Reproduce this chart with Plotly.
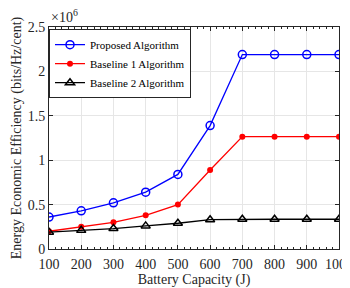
import plotly.graph_objects as go

capacity = [100, 200, 300, 400, 500, 600, 700, 800, 900, 1000]
proposed = [0.36, 0.43, 0.52, 0.64, 0.84, 1.39, 2.19, 2.19, 2.19, 2.19]
baseline1 = [0.20, 0.25, 0.30, 0.38, 0.50, 0.89, 1.265, 1.265, 1.265, 1.265]
baseline2 = [0.19, 0.21, 0.23, 0.26, 0.29, 0.33, 0.335, 0.335, 0.335, 0.335]
x_ticks = [100, 200, 300, 400, 500, 600, 700, 800, 900, 1000]
y_ticks = [0, 0.5, 1, 1.5, 2, 2.5]
y_labels = ["0", "0.5", "1", "1.5", "2", "2.5"]

font = "Liberation Serif"

fig = go.Figure()
fig.add_trace(go.Scatter(x=capacity, y=proposed, mode="lines+markers",
                         name="Proposed Algorithm",
                         line=dict(color="#0000ff", width=1.3),
                         marker=dict(symbol="circle-open", size=8, color="#0000ff", line=dict(width=1.5))))
fig.add_trace(go.Scatter(x=capacity, y=baseline1, mode="lines+markers",
                         name="Baseline 1 Algorithm",
                         line=dict(color="#ff0000", width=1.3),
                         marker=dict(symbol="circle", size=6, color="#ff0000")))
fig.add_trace(go.Scatter(x=capacity, y=baseline2, mode="lines+markers",
                         name="Baseline 2 Algorithm",
                         line=dict(color="#000000", width=1.3),
                         marker=dict(symbol="triangle-up-open", size=8, color="#000000", line=dict(width=1.5))))

# the page body adds an 8px margin, so the figure is 8px smaller and margins shifted
fig.update_layout(
    width=342, height=280,
    margin=dict(l=41, r=11, t=19, b=39),
    paper_bgcolor="white", plot_bgcolor="white",
    font=dict(family=font, size=14, color="#262626"),
    showlegend=True,
    legend=dict(x=0.0, y=0.99, xanchor="left", yanchor="top",
                bgcolor="white", bordercolor="#262626", borderwidth=1,
                font=dict(family=font, size=11, color="#000000"),
                tracegroupgap=0, itemwidth=30),
    xaxis=dict(range=[100, 1000], tickvals=x_ticks, ticktext=[str(v) for v in x_ticks],
               automargin=False,
               showgrid=True, gridcolor="#e6e6e6", gridwidth=1,
               showline=True, linecolor="#262626", linewidth=1, mirror="allticks",
               ticks="inside", ticklen=4, tickcolor="#262626",
               minor=dict(dtick=20, ticks="inside", ticklen=2, tickcolor="#262626", showgrid=False),
               zeroline=False, ticklabeloverflow="allow", ticklabelstandoff=2,
               title=dict(text="Battery Capacity (J)", standoff=0, font=dict(family=font, size=14)),
               tickfont=dict(family=font, size=14)),
    yaxis=dict(range=[0, 2.5], tickvals=y_ticks, ticktext=y_labels,
               automargin=False,
               showgrid=True, gridcolor="#e6e6e6", gridwidth=1,
               showline=True, linecolor="#262626", linewidth=1, mirror="allticks",
               ticks="inside", ticklen=4, tickcolor="#262626",
               zeroline=False,
               title=dict(text="Energy Economic Efficiency (bits/Hz/cent)", standoff=2, font=dict(family=font, size=14)),
               tickfont=dict(family=font, size=14)),
    annotations=[dict(text="×10<sup>6</sup>", xref="paper", yref="paper", x=0.0, y=1.0,
                      xanchor="left", yanchor="bottom", showarrow=False,
                      font=dict(family=font, size=14, color="#262626"))],
)

fig.write_html("out.html")
